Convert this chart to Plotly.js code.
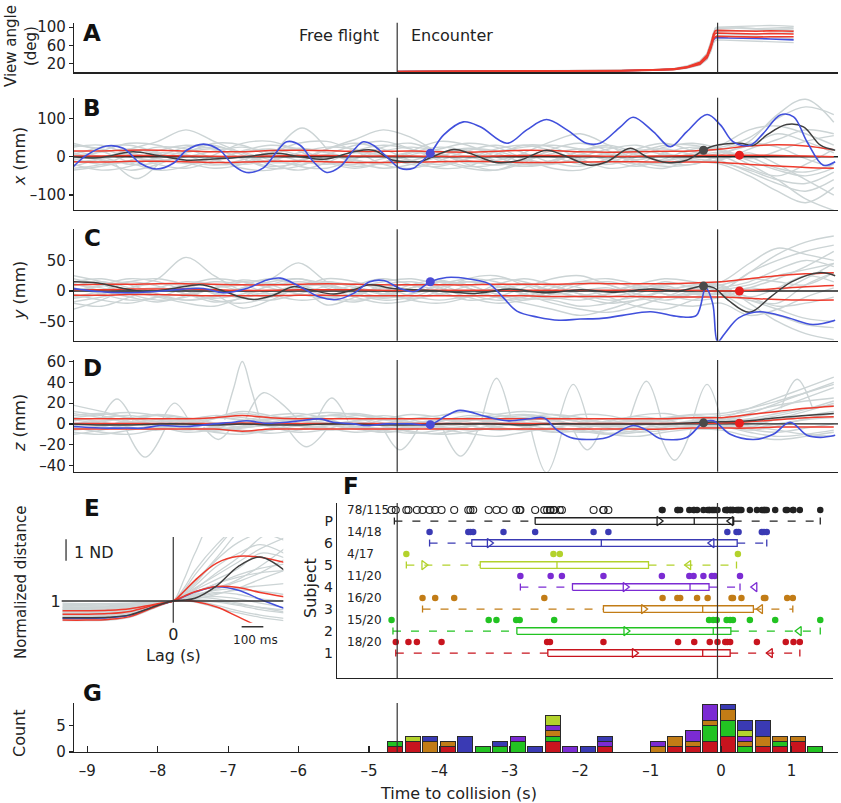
<!DOCTYPE html>
<html><head><meta charset="utf-8">
<script src="https://cdn.plot.ly/plotly-3.0.1.min.js"></script>
<style>html,body{margin:0;padding:0;background:#fff}#plot{width:841px;height:803px}</style>
</head><body><div id="plot"></div>
<script>
// ================= DATA =================
const encounterTime = -4.6;
const collisionTime = -0.05;
const timeTicks = [-9,-8,-7,-6,-5,-4,-3,-2,-1,0,1];

// Panel A: view angle (deg)
const tA = [-4.6,-3.0,-2.0,-1.43,-0.97,-0.68,-0.49,-0.3,-0.2,-0.146,-0.11,-0.085,-0.06,0.1,0.3,0.5,0.7,0.9,1.03];
const angleRedHi  = [1.8,2.3,3.2,4.1,5.6,7.5,12,22,38,62,84,92,93,92,91,91,92,91,91];
const angleRedMid = [1.5,2,2.8,3.6,5,6.7,11,20,35,57,79,86,87,86,85,85,86,85,85];
const angleRedLo  = [1.2,1.7,2.4,3.1,4.4,5.9,10,18,32,52,73,79,80,79,79,78,79,79,79];
const angleBlue   = [1.5,2,2.8,3.6,5,6.6,10.5,19,33,55,72,76,77,76,76,75,74,72,72];
const angleGray = [
  [2,2.5,3.5,4.5,6,8,14,25,42,68,90,98,100,101,103,104,104,103,102],
  [1.2,1.6,2.2,3,4.2,5.5,9,16,28,46,64,70,72,71,70,69,68,67,66],
  [1.6,2.1,3,3.9,5.4,7.2,12,23,40,64,86,94,97,98,99,97,95,96,97],
  [1.4,1.8,2.6,3.4,4.7,6.3,10,18,31,50,70,78,82,83,84,85,86,87,88],
  [1.9,2.4,3.3,4.3,5.8,7.8,13,24,41,66,88,96,99,98,97,97,98,99,100],
  [1.3,1.7,2.5,3.2,4.5,6,9.5,17,30,48,68,74,76,78,80,80,78,76,75],
  [1.7,2.2,3.1,4,5.5,7.4,12.5,23,39,63,85,92,94,93,92,93,94,93,92],
  [1.5,1.9,2.7,3.5,4.9,6.5,11,21,36,58,80,88,90,91,93,94,95,94,93]
];

// Shared time grid for gray trajectories and red mean/SD lines (B, C, D)
const tGrid = [-9.2,-8.8,-8.4,-8.0,-7.6,-7.2,-6.8,-6.4,-6.0,-5.6,-5.2,-4.8,-4.4,-4.0,-3.6,-3.2,-2.8,-2.4,-2.0,-1.6,-1.2,-0.8,-0.4,0.0,0.4,0.8,1.2,1.6];

// Panel B: x (mm)
const grayB = [
  [25,30,5,-20,-30,-10,15,30,20,-10,-25,-15,10,25,15,-10,-25,-15,15,30,10,-15,-20,5,40,110,150,90],
  [-30,-20,5,25,20,-5,-30,-35,-10,20,35,20,-10,-30,-25,5,30,25,-5,-30,-20,10,25,15,-20,-60,-110,-140],
  [10,-10,-35,-20,10,35,30,0,-25,-30,-5,25,35,10,-20,-35,-15,20,35,15,-20,-30,-5,10,30,60,40,10],
  [-10,15,35,30,5,-20,-15,10,35,40,15,-20,-30,-10,15,30,10,-15,-25,-5,20,35,15,-10,-40,-70,-90,-60],
  [35,15,-15,-35,-25,5,35,40,15,-15,-30,-15,15,40,30,0,-20,-10,15,25,5,-10,5,30,70,80,60,30],
  [-20,-35,-25,0,25,30,5,-20,-35,-15,15,30,20,-5,-25,-20,10,40,60,30,-10,-25,-20,0,-30,-50,-20,20],
  [5,25,30,10,-15,-30,-20,5,20,10,-10,-15,5,20,35,25,-5,-30,-35,-10,15,20,5,-5,10,-20,-60,-100],
  [-5,-20,-10,15,30,20,-5,-30,-25,5,30,40,20,-10,-30,-35,-10,15,10,-10,-25,-5,20,25,50,100,130,110],
  [15,0,-20,-15,10,20,-5,-25,-15,20,45,70,50,10,-15,-10,5,0,-20,-15,10,30,30,15,0,-30,-40,-20],
  [-25,-5,20,40,70,40,10,-15,-10,5,-15,-30,-20,0,20,10,-15,-20,0,20,30,10,-10,-20,-50,-90,-120,-80],
  [0,12,20,8,-12,-22,-8,12,22,12,-8,-20,-10,8,22,15,-5,-18,-8,10,18,5,-12,-8,20,45,70,60],
  [-15,-5,8,-5,-18,-5,12,20,5,-15,-20,-5,12,5,-10,-22,-10,8,20,8,-12,-18,0,12,-10,-35,-50,-30],
  [30,20,0,-10,0,15,25,10,-10,-20,-5,15,25,15,0,-15,-25,-10,5,-5,-20,-10,10,20,35,25,-5,-30],
  [-35,-25,-10,10,5,-10,-20,-10,10,25,20,0,-20,-25,-5,20,30,15,-10,-20,0,25,35,20,-5,15,40,55],
  [8,-8,-15,-5,15,25,12,-8,-20,-5,10,5,-10,-20,-5,12,25,30,20,5,-8,5,-5,-15,-35,-60,-70,-40]
];
const grayExtraB = [{t:[-6.3,-5.95,-5.6], v:[20,75,20]}, {t:[-8.6,-8.3,-8.0], v:[-20,-57,-20]}];
const redBHi  = [15,15,17,17,15,13,13,16,17,16,14,14,15,13,12,14,17,16,13,12,13,14,15,20,28,31,28,18];
const redBMid = [2,2,3,3,2,1,1,2,3,3,2,2,2,1,1,2,3,3,2,1,1,2,3,4,4,3,2,0];
const redBLo  = [-13,-14,-12,-12,-13,-15,-14,-12,-12,-13,-15,-15,-14,-13,-12,-13,-15,-15,-14,-13,-13,-14,-14,-15,-20,-24,-28,-30];
const blueBT = [-9.2,-9.01,-8.73,-8.49,-8.25,-8.02,-7.78,-7.59,-7.35,-7.12,-6.93,-6.74,-6.5,-6.31,-6.17,-5.98,-5.79,-5.6,-5.41,-5.22,-5.08,-4.94,-4.75,-4.56,-4.37,-4.28,-4.13,-3.94,-3.66,-3.42,-3.04,-2.76,-2.48,-2.19,-1.91,-1.72,-1.43,-1.25,-0.96,-0.72,-0.49,-0.2,-0.01,0.17,0.41,0.6,0.84,1.03,1.22,1.45,1.62];
const blueBV = [-26,4,28,22,-17,-32,-17,17,33,17,-22,-41,-29,13,39,30,-13,-41,-26,17,39,30,0,-30,-30,-17,9,57,91,78,35,70,97,70,35,35,78,103,65,26,65,110,83,39,30,61,109,104,39,-22,-13];
const blackBT = [-9.2,-8.85,-8.35,-8.02,-7.59,-7.21,-6.74,-6.31,-5.98,-5.6,-5.22,-4.94,-4.66,-4.37,-4.28,-3.8,-3.57,-3.19,-2.86,-2.48,-2.24,-1.86,-1.62,-1.29,-1.06,-0.77,-0.49,-0.25,-0.11,0.27,0.46,0.65,0.93,1.17,1.41,1.62];
const blackBV = [0,-3,13,4,-9,-6,0,9,0,-6,13,17,-9,-13,-13,19,9,-15,-9,17,4,-22,-13,22,0,-15,-9,17,28,35,30,57,84,78,30,17];
const dotsB = {blue:[-4.13, 9], black:[-0.25, 17], red:[0.26, 4]};

// Panel C: y (mm)
const grayC = [
  [-30,-15,5,20,55,25,0,-10,5,15,5,-5,5,15,10,-5,-15,-5,10,15,5,-5,-10,0,30,60,80,90],
  [15,20,10,-5,-15,-10,5,15,20,10,-5,-15,-10,5,15,10,-5,-20,-30,-35,-25,-10,5,10,-20,-50,-70,-80],
  [5,-5,-15,-10,5,15,10,-5,-15,-10,5,15,20,10,-5,-15,-10,5,15,10,-5,-15,-5,5,15,35,50,40],
  [-10,0,15,20,10,-5,-28,-15,5,10,0,-10,-5,10,20,15,0,-10,-15,-5,10,20,15,5,-10,-25,-20,-10],
  [20,10,-5,-15,-10,5,15,20,46,15,-5,-10,5,15,5,-10,-20,-30,-40,-30,-15,0,10,15,45,70,60,50],
  [0,10,20,15,0,-15,-20,-10,5,-23,-10,10,15,5,-10,-20,-15,0,15,20,10,-5,-15,-10,5,20,40,65],
  [-20,-25,-10,5,15,10,0,-5,5,20,15,0,-15,-20,-10,10,20,10,-5,-10,0,15,5,-5,-30,-40,-55,-60],
  [10,5,-5,0,10,20,15,5,-5,-10,-5,5,10,0,-15,-10,5,20,25,10,-5,-10,0,10,20,15,10,30],
  [-5,-15,-20,-10,-5,5,10,20,10,0,10,20,10,-5,-10,0,10,0,-10,-20,-15,-10,-5,-5,-15,-20,10,30],
  [25,15,0,-10,-20,-25,-10,10,20,5,-10,-20,-15,0,20,25,10,-5,0,5,-10,-20,-25,-20,-40,-30,-10,5],
  [0,8,15,8,-5,-12,-5,8,15,8,-5,-12,-5,8,15,8,-5,-12,-8,0,8,5,-3,2,10,25,35,45],
  [-12,-5,5,12,8,-3,-12,-15,-5,8,12,5,-8,-15,-8,5,12,8,-5,-15,-10,0,8,0,-15,-30,-45,-50],
  [8,15,5,-8,-15,-8,5,12,5,-8,-15,-8,5,15,10,-5,-12,-15,-25,-20,-5,8,-5,-5,5,0,20,45],
  [-18,-10,0,5,-5,-18,-12,0,8,15,8,-5,-12,-5,8,20,15,0,-10,-5,5,10,12,8,-10,5,25,15],
  [12,0,-10,-18,-8,5,18,10,-5,-12,-18,-5,10,18,5,-10,-5,10,5,-10,-25,-30,-15,0,30,50,65,75]
];
const redCHi  = [10,11,11,12,12,11,10,10,11,12,11,10,10,10,10,11,11,11,12,12,12,12,13,15,20,25,28,30];
const redCMid = [2,2,3,3,3,2,1,1,2,2,2,1,1,1,1,1,1,1,1,1,1,1,1,0,1,4,7,9];
const redCLo  = [-7,-7,-6,-6,-7,-8,-8,-8,-7,-7,-8,-8,-8,-8,-8,-8,-8,-9,-9,-9,-9,-10,-10,-10,-12,-14,-15,-15];
const blueCT = [-9.2,-8.85,-8.49,-8.02,-7.64,-7.35,-7.07,-6.74,-6.45,-6.26,-5.98,-5.7,-5.46,-5.22,-4.99,-4.79,-4.56,-4.35,-4.13,-3.9,-3.6,-3.3,-3.1,-2.9,-2.6,-2.3,-2.0,-1.7,-1.4,-1.0,-0.6,-0.35,-0.22,-0.12,-0.05,0.05,0.25,0.55,0.95,1.3,1.62];
const blueCV = [4,-1,-3,-1,3,4,-3,4,18,21,7,-10,-14,-4,15,17,4,-1,15,22,20,12,-10,-33,-43,-48,-46,-45,-40,-34,-42,-40,5,-20,-83,-70,-44,-34,-44,-55,-48];
const blackCT = [-9.2,-8.85,-8.49,-8.16,-7.78,-7.4,-7.12,-6.83,-6.64,-6.36,-6.08,-5.84,-5.5,-5.22,-4.99,-4.66,-4.35,-4.0,-3.5,-3.0,-2.5,-2.0,-1.5,-1.0,-0.6,-0.25,-0.1,0.1,0.4,0.7,1.0,1.4,1.62];
const blackCV = [15,13,4,-1,4,10,2,-10,-14,-7,7,2,-5,2,10,4,2,0,-4,3,-3,2,-2,3,0,8,5,-15,-35,-10,15,30,25];
const dotsC = {blue:[-4.13, 15], black:[-0.25, 8], red:[0.26, 0]};

// Panel D: z (mm)
const grayD = [
  [8,10,5,-2,-8,-5,3,8,10,5,-3,-8,-5,2,8,6,-2,-8,-6,2,8,10,5,4,10,20,30,40],
  [-6,-3,4,8,5,-2,-8,-6,2,8,6,-2,-8,-9,-3,4,8,5,-3,-9,-6,2,6,3,-5,-8,-4,0],
  [12,8,2,-4,-2,5,10,6,-2,-6,-3,4,9,6,-1,-6,-4,3,9,8,2,-4,-2,5,15,25,35,45],
  [-3,-8,-10,-5,2,6,4,-3,-8,-5,3,8,4,-2,-6,-3,3,6,2,-4,-8,-6,-1,2,5,10,15,18],
  [18,12,6,2,4,8,6,2,0,4,8,6,2,-2,0,4,6,3,-1,-3,0,4,6,8,12,18,22,25],
  [-10,-6,0,4,2,-3,-6,-9,-6,-1,2,-2,-7,-10,-8,-3,1,-2,-7,-10,-8,-3,0,-2,-8,-12,-10,-6],
  [3,6,8,4,-2,-6,-3,2,5,8,10,6,0,-4,-2,3,6,9,6,0,-5,-3,2,0,-3,5,12,20],
  [-8,-10,-6,-2,-4,-8,-10,-6,-2,-4,-8,-6,-3,-5,-9,-12,-8,-4,-6,-10,-12,-8,-5,-6,-12,-15,-12,-8],
  [5,2,-3,-6,0,6,12,8,3,0,-4,0,5,8,12,9,4,0,-2,3,7,4,-1,3,8,15,25,35],
  [0,3,5,2,-3,-5,-2,4,7,3,-2,-4,0,4,2,-3,-6,-4,1,5,3,-1,-4,-3,0,4,8,12],
  [4,0,-4,-2,3,6,3,-2,-5,-2,3,5,2,-3,-5,-1,3,5,2,-2,-4,-1,3,2,-2,-6,-10,-12],
  [-2,2,6,9,6,1,-3,-1,4,8,6,1,-3,-1,3,7,9,6,2,-2,1,5,8,6,4,8,14,22],
  [10,6,1,-3,-6,-3,2,5,3,-1,-5,-8,-5,0,4,2,-3,-7,-4,1,4,2,-2,-1,-6,-2,5,10],
  [-5,-2,2,0,-4,-7,-4,0,3,1,-3,-6,-9,-6,-2,1,-1,-5,-8,-6,-2,1,-1,-3,-4,0,4,6],
  [6,9,11,8,3,0,2,5,8,11,9,4,1,3,6,9,12,9,4,1,3,6,9,10,15,22,30,38]
];
const spikesD = [
  {t:[-7.05,-6.92,-6.8,-6.68,-6.55], v:[4,35,60,35,4]},
  {t:[-6.75,-6.5,-6.25,-6.0], v:[5,30,20,3]},
  {t:[-8.8,-8.58,-8.35], v:[5,24,3]},
  {t:[-7.95,-7.76,-7.55], v:[2,20,2]},
  {t:[-5.75,-5.53,-5.3], v:[3,25,3]},
  {t:[-8.45,-8.18,-7.9], v:[-5,-32,-5]},
  {t:[-6.15,-5.89,-5.6], v:[-5,-22,-5]},
  {t:[-4.8,-4.56,-4.3], v:[-4,-25,-4]},
  {t:[-7.35,-7.14,-6.95], v:[-3,-15,-3]},
  {t:[-3.4,-3.19,-2.98], v:[4,44,4]},
  {t:[-2.3,-2.1,-1.9], v:[4,38,4]},
  {t:[-1.3,-1.06,-0.85], v:[4,41,4]},
  {t:[-0.4,-0.2,0.0], v:[4,38,4]},
  {t:[0.85,1.08,1.3], v:[15,43,15]},
  {t:[-3.95,-3.7,-3.45], v:[-5,-31,-5]},
  {t:[-2.7,-2.48,-2.25], v:[-5,-47,-5]},
  {t:[-2.1,-1.9,-1.7], v:[-5,-25,-5]},
  {t:[-0.9,-0.66,-0.42], v:[-5,-35,-5]}
];
const redDHi  = [5,5,5,5,5,6,8,6,5,5,5,5,5,5,5,5,5,5,5,5,5,5,6,6,9,12,15,17];
const redDMid = [0.5,0.5,0.5,0.5,0.5,0.5,0.8,0.5,0.5,0.5,0.5,0.5,0.5,0.5,0.5,0.5,0.5,0.5,0.5,0.5,0.5,0.5,0.6,0.8,2,4,6,7];
const redDLo  = [-5,-5,-5,-5,-5,-5,-7,-5,-5,-5,-5,-5,-5,-5,-5,-5,-5,-5,-5,-5,-5,-5,-4,-4,-4,-3,-3,-3];
const blackD  = [0,-1,-1,0,0,-1,0,-1,-1,0,0,-1,-1,0,0,0,-1,0,0,0,0,0,1,2,3,6,8,10];
const blueDT = [-9.19,-8.82,-8.44,-8.2,-7.97,-7.59,-7.21,-6.93,-6.74,-6.45,-6.17,-5.98,-5.7,-5.51,-5.22,-5.03,-4.75,-4.4,-4.13,-3.9,-3.71,-3.33,-3.04,-2.71,-2.52,-2.33,-2.14,-1.91,-1.62,-1.25,-1.06,-0.87,-0.49,-0.25,-0.11,0.13,0.46,0.74,0.98,1.22,1.41,1.62];
const blueDV = [-2.5,-4,-4,-4,-1.6,-2.5,0,1.6,3,0.6,1.6,3,4.8,1.6,0,-1.6,0,0,-0.7,8,13,7,3,5,6,-6,-13,-15,-13,-1.6,-6,-14,-13,1.6,3,-10,-15,-10,1.6,-11,-13,-11];
const dotsD = {blue:[-4.13, -0.7], black:[-0.25, 1], red:[0.26, 0.6]};

// Panel E: normalized distance vs lag (s)
const lagGrid = [-0.51,-0.4,-0.3,-0.2,-0.1,-0.05,0,0.05,0.1,0.2,0.3,0.4,0.51];
const grayE = [
  [0.6,0.62,0.65,0.72,0.86,0.93,1,1.4,1.9,3.0,4.2,5,5],
  [0.3,0.3,0.32,0.45,0.75,0.88,1,1.3,1.6,2.2,2.8,3.4,3.9],
  [0.8,0.8,0.82,0.85,0.92,0.96,1,1.2,1.4,1.8,2.1,2.3,2.4],
  [0.5,0.52,0.55,0.62,0.8,0.9,1,1.1,1.15,1.2,1.1,0.9,0.7],
  [0.2,0.2,0.22,0.35,0.7,0.86,1,1.05,1.0,0.8,0.55,0.35,0.2],
  [0.7,0.7,0.72,0.78,0.9,0.95,1,1.6,2.4,3.6,4.5,5,5],
  [0.4,0.42,0.45,0.55,0.78,0.9,1,1.2,1.5,2.0,2.5,3.2,3.0],
  [0.9,0.88,0.88,0.9,0.95,0.98,1,1.15,1.3,1.5,1.6,1.7,1.8],
  [0.15,0.15,0.18,0.3,0.65,0.84,1,1.1,1.2,1.4,1.3,1.1,1.0],
  [0.55,0.55,0.58,0.65,0.82,0.91,1,1.3,1.7,2.6,3.2,3.6,3.2],
  [0.35,0.36,0.4,0.5,0.75,0.88,1,1.08,1.15,1.1,0.9,0.7,0.6],
  [0.75,0.76,0.78,0.82,0.91,0.95,1,2,3.2,5,5,5,5],
  [0.25,0.27,0.3,0.42,0.72,0.87,1,1.25,1.55,2.3,3.0,3.9,4.5],
  [0.65,0.66,0.68,0.74,0.88,0.94,1,1.05,1.1,1.3,1.6,2.0,2.4],
  [0.45,0.46,0.5,0.6,0.8,0.9,1,1.02,0.95,0.7,0.45,0.25,0.1],
  [0.85,0.85,0.86,0.88,0.93,0.97,1,1.5,2.2,3.4,4.5,5,5],
  [0.1,0.1,0.12,0.25,0.62,0.82,1,1.15,1.35,1.8,2.2,2.5,2.7],
  [0.6,0.6,0.62,0.68,0.84,0.92,1,1.12,1.25,1.55,1.9,2.3,2.9],
  [0.3,0.32,0.35,0.46,0.76,0.89,1,1.04,1.06,1.0,0.85,0.7,0.5],
  [0.7,0.72,0.74,0.8,0.9,0.95,1,1.35,1.8,2.9,3.7,4.1,3.8],
  [0.5,0.5,0.53,0.6,0.8,0.9,1,1.1,1.25,1.6,2.0,2.6,3.4],
  [0.2,0.22,0.26,0.38,0.7,0.86,1,1.08,1.18,1.35,1.5,1.45,1.3],
  [0.4,0.4,0.43,0.52,0.77,0.89,1,1.02,1.02,0.95,0.8,0.6,0.45]
];
const redEHi  = [0.55,0.55,0.57,0.64,0.82,0.91,1,1.45,1.95,2.75,3.06,3.02,2.78];
const redEMid = [0.39,0.39,0.42,0.52,0.78,0.9,1,1.22,1.43,1.67,1.62,1.39,1.2];
const redELo  = [0.12,0.12,0.15,0.28,0.66,0.85,1,1.02,0.98,0.72,0.27,-0.2,-0.6];
const blackE  = [0.23,0.23,0.25,0.36,0.7,0.87,1,1.05,1.13,1.7,2.6,3.03,2.43];
const blueE   = [0.2,0.2,0.23,0.34,0.69,0.86,1,1.2,1.42,1.66,1.5,1.08,0.66];

// Panel F: event times per subject (s)
const subjects = ['1','2','3','4','5','6'];
const fractionLabels = ['18/20','15/20','16/20','11/20','4/17','14/18'];
const pooledLabel = '78/115';
const eventsS1 = [-4.62,-4.44,-4.32,-3.97,-2.47,-2.43,-1.67,-0.61,-0.38,-0.16,-0.05,0.06,0.09,0.13,0.51,0.92,1.03,1.12];
const eventsS2 = [-4.68,-3.30,-3.19,-2.91,-2.86,-2.37,-0.17,-0.11,-0.06,0.08,0.13,0.17,0.41,0.77,1.41];
const eventsS3 = [-4.24,-4.06,-3.79,-2.51,-0.83,-0.62,-0.58,-0.34,-0.19,0.15,0.17,0.29,0.61,0.63,0.94,1.02];
const eventsS4 = [-2.85,-2.42,-2.26,-1.67,-0.84,-0.45,-0.39,-0.25,-0.13,-0.09,0.27];
const eventsS5 = [-4.47,-2.38,-2.29,0.24];
const eventsS6 = [-4.14,-3.59,-3.56,-3.52,-3.09,-2.64,-1.81,-1.60,0.09,0.22,0.25,0.58,0.61,0.65];
const openBefore = -1.2;
// box summaries: [whiskerLo, q1, median, q3, whiskerHi, rightTriangle, leftTriangle]
const boxS1 = [-4.62,-2.46,-0.26,0.13,1.12,-1.23,0.70];
const boxS2 = [-4.66,-2.90,-0.11,0.14,1.41,-1.35,1.11];
const boxS3 = [-4.24,-1.67,-0.26,0.46,1.02,-1.10,0.56];
const boxS4 = [-2.85,-2.11,-0.44,-0.17,0.27,-1.36,0.48];
const boxS5 = [-4.47,-3.42,-2.33,-1.03,0.22,-4.22,-0.46];
const boxS6 = [-4.14,-3.54,-1.70,0.23,0.65,-3.29,-0.13];
const boxP  = [-4.64,-2.64,-0.38,0.18,1.41,-0.88,0.14];

// Panel G: stacked histogram counts
const binCenters = [-4.63,-4.381,-4.133,-3.884,-3.636,-3.387,-3.138,-2.890,-2.641,-2.393,-2.144,-1.895,-1.647,-1.398,-1.150,-0.901,-0.652,-0.404,-0.155,0.094,0.342,0.591,0.839,1.088,1.337];
const countS1 = [1,2,0,1,0,0,0,0,0,2,0,0,1,0,0,0,1,1,2,3,0,1,1,2,0];
const countS2 = [1,0,0,0,0,1,1,2,0,1,0,0,0,0,0,0,0,0,3,3,1,0,1,0,1];
const countS3 = [0,0,2,1,0,0,0,0,0,1,0,0,0,0,0,1,2,1,1,2,1,2,1,1,0];
const countS4 = [0,0,0,0,0,0,0,1,0,1,1,0,1,0,0,1,0,2,3,0,1,0,0,0,0];
const countS5 = [0,1,0,0,0,0,0,0,0,2,0,0,0,0,0,0,0,0,0,0,1,0,0,0,0];
const countS6 = [0,0,1,0,3,0,1,0,1,0,0,1,1,0,0,0,0,0,0,1,2,3,0,0,0];

// ================= STYLE / LAYOUT =================
const W = 841, H = 803;
const FONT = 'DejaVu Sans, Liberation Sans, Arial, sans-serif';
const INK = '#222222', GRAY = '#ccd4d5', RED = '#ee3a2c', BLUE = '#4150dc', DARK = '#3f3f3f';
const subjColors = ['#c8141e','#22c322','#c27c16','#7b2bd3','#b3d22c','#3a3ab4'];
const tMin = -9.19, tMax = 1.66;
const xd = (l, r) => [l / W, r / W];
const yd = (t, b) => [1 - b / H, 1 - t / H];
const lab = v => v < 0 ? '\u2013' + Math.abs(v) : String(v);

const traces = [];
function add(o) { traces.push(Object.assign({type:'scatter', hoverinfo:'skip', showlegend:false}, o)); }
function ln(xa, ya, x, y, color, width, shape) {
  add({x, y, xaxis:xa, yaxis:ya, mode:'lines', line:{color, width, shape: shape || 'spline', smoothing: 1}});
}
function dot(xa, ya, p, color) {
  add({x:[p[0]], y:[p[1]], xaxis:xa, yaxis:ya, mode:'markers', marker:{color, size:9}});
}

// A
angleGray.forEach(v => ln('x','y', tA, v, GRAY, 1.3, 'linear'));
ln('x','y', tA, angleBlue, BLUE, 1.6, 'linear');
[angleRedHi, angleRedMid, angleRedLo].forEach(v => ln('x','y', tA, v, RED, 1.6, 'linear'));

// B, C, D
function trajPanel(xa, ya, grays, extras, reds, blackT, blackV, blueT, blueV, dots) {
  grays.forEach(v => ln(xa, ya, tGrid, v, GRAY, 1.4));
  extras.forEach(s => ln(xa, ya, s.t, s.v, GRAY, 1.4));
  add({x:[tMin, tMax], y:[0, 0], xaxis:xa, yaxis:ya, mode:'lines', line:{color:INK, width:1.4}});
  reds.forEach(v => ln(xa, ya, tGrid, v, RED, 1.5));
  ln(xa, ya, blackT, blackV, DARK, 1.5);
  ln(xa, ya, blueT, blueV, BLUE, 1.6);
  dot(xa, ya, dots.blue, '#4b4bd6');
  dot(xa, ya, dots.black, '#4a4a4a');
  dot(xa, ya, dots.red, '#e81e1e');
}
trajPanel('x2','y2', grayB, grayExtraB, [redBHi, redBMid, redBLo], blackBT, blackBV, blueBT, blueBV, dotsB);
trajPanel('x3','y3', grayC, [], [redCHi, redCMid, redCLo], blackCT, blackCV, blueCT, blueCV, dotsC);
trajPanel('x4','y4', grayD, spikesD, [redDHi, redDMid, redDLo], tGrid, blackD, blueDT, blueDV, dotsD);

// E
grayE.forEach(v => ln('x5','y5', lagGrid, v, GRAY, 1.3));
ln('x5','y5', lagGrid, blueE, BLUE, 1.5);
[redEHi, redEMid, redELo].forEach(v => ln('x5','y5', lagGrid, v, RED, 1.5));
ln('x5','y5', lagGrid, blackE, DARK, 1.5);

// F
const events = [eventsS1, eventsS2, eventsS3, eventsS4, eventsS5, eventsS6];
const boxes = [boxS1, boxS2, boxS3, boxS4, boxS5, boxS6];
const boxHalf = 0.3;
function boxRow(b, r, color) {
  const [wlo, q1, med, q3, whi, triR, triL] = b;
  add({x:[wlo, q1], y:[r, r], xaxis:'x6', yaxis:'y6', mode:'lines', line:{color, width:1.3, dash:'8px,10px'}});
  add({x:[q3, whi], y:[r, r], xaxis:'x6', yaxis:'y6', mode:'lines', line:{color, width:1.3, dash:'8px,10px'}});
  add({x:[q1, q3, q3, q1, q1], y:[r-boxHalf, r-boxHalf, r+boxHalf, r+boxHalf, r-boxHalf], xaxis:'x6', yaxis:'y6', mode:'lines', line:{color, width:1.3}});
  add({x:[med, med], y:[r-boxHalf, r+boxHalf], xaxis:'x6', yaxis:'y6', mode:'lines', line:{color, width:1.3}});
  add({x:[wlo, whi], y:[r, r], xaxis:'x6', yaxis:'y6', mode:'markers', marker:{symbol:'line-ns-open', size:5, color, line:{color, width:1.3}}});
  add({x:[triR], y:[r], xaxis:'x6', yaxis:'y6', mode:'markers', marker:{symbol:'triangle-right-open', size:8, color, line:{color, width:1.3}}});
  add({x:[triL], y:[r], xaxis:'x6', yaxis:'y6', mode:'markers', marker:{symbol:'triangle-left-open', size:8, color, line:{color, width:1.3}}});
}
events.forEach((ev, i) => {
  const r = 2 * (i + 1);
  add({x: ev, y: ev.map(() => r + 1), xaxis:'x6', yaxis:'y6', mode:'markers', marker:{color: subjColors[i], size:6.5}});
  boxRow(boxes[i], r, subjColors[i]);
});
const pooled = [].concat(...events);
const pOpen = pooled.filter(t => t < openBefore), pFilled = pooled.filter(t => t >= openBefore);
add({x:pOpen, y:pOpen.map(() => 15), xaxis:'x6', yaxis:'y6', mode:'markers', marker:{symbol:'circle-open', size:7, color:'#222', line:{width:1.1}}});
add({x:pFilled, y:pFilled.map(() => 15), xaxis:'x6', yaxis:'y6', mode:'markers', marker:{color:'#222', size:6.5}});
boxRow(boxP, 14, '#222222');

// G
[countS1, countS2, countS3, countS4, countS5, countS6].forEach((c, i) => {
  traces.push({type:'bar', x: binCenters, y: c, width: 0.215, xaxis:'x7', yaxis:'y7', hoverinfo:'skip', showlegend:false,
    marker:{color: subjColors[i], line:{color:'#2a2a2a', width:1}}});
});

// Axes
function xMain(anchor) {
  return {domain: xd(74, 838), range: [tMin, tMax], anchor, showline: true, linecolor: INK, linewidth: 1.2,
    ticks: '', showticklabels: false, showgrid: false, zeroline: false, fixedrange: true};
}
function yAx(anchor, top, bottom, range, vals) {
  return {domain: yd(top, bottom), range, anchor, showline: true, linecolor: INK, linewidth: 1.2,
    ticks: 'outside', ticklen: 4, tickwidth: 1.2, tickcolor: INK, tickvals: vals, ticktext: vals.map(lab),
    showgrid: false, zeroline: false, tickfont: {size: 15}, fixedrange: true};
}
const layout = {
  width: W, height: H, margin: {l:0, r:0, t:0, b:0}, showlegend: false,
  paper_bgcolor: '#ffffff', plot_bgcolor: 'rgba(0,0,0,0)', barmode: 'stack',
  font: {family: FONT, size: 15, color: INK},
  xaxis: xMain('y'), yaxis: yAx('x', 22.7, 72.3, [0, 110], [20, 60, 100]),
  xaxis2: xMain('y2'), yaxis2: yAx('x2', 97.7, 210, [-139, 154], [-100, 0, 100]),
  xaxis3: xMain('y3'), yaxis3: yAx('x3', 229.3, 340.7, [-81.5, 101], [-50, 0, 50]),
  xaxis4: xMain('y4'), yaxis4: yAx('x4', 360, 471.7, [-46, 61.5], [-40, -20, 0, 20, 40, 60]),
  xaxis5: {domain: xd(61.7, 283.3), range: [-0.514, 0.507], anchor: 'y5', showline: false, ticks: '', tickvals: [0], ticktext: ['0'],
    showgrid: false, zeroline: false, tickfont: {size: 16}, fixedrange: true},
  yaxis5: {domain: yd(537, 622.7), range: [0, 3.95], anchor: 'x5', showline: false, ticks: '', tickvals: [1], ticktext: ['1'],
    showgrid: false, zeroline: false, tickfont: {size: 16}, fixedrange: true},
  xaxis6: {domain: xd(337, 833), range: [-5.455, 1.591], anchor: 'y6', showline: true, linecolor: INK, linewidth: 1.2,
    ticks: '', showticklabels: false, showgrid: false, zeroline: false, fixedrange: true},
  yaxis6: {domain: yd(503, 678), range: [-0.27, 15.64], anchor: 'x6', showline: true, linecolor: INK, linewidth: 1.2,
    ticks: '', tickvals: [2, 4, 6, 8, 10, 12, 14], ticktext: subjects.concat(['P']), showgrid: false, zeroline: false,
    tickfont: {size: 14}, fixedrange: true},
  xaxis7: Object.assign(xMain('y7'), {ticks: 'inside', ticklen: 6, tickwidth: 1.2, tickcolor: INK, showticklabels: true,
    tickvals: timeTicks, ticktext: timeTicks.map(lab), tickfont: {size: 15}, ticklabelstandoff: 5}),
  yaxis7: yAx('x7', 703, 752, [0, 9.32], [0, 5]),
  shapes: [], annotations: []
};

// reference lines
const vline = (xa, ya, t) => ({type:'line', xref: xa, yref: ya + ' domain', x0: t, x1: t, y0: 0, y1: 1, line:{color:'#333', width:1.2}, layer:'above'});
[['x','y'],['x2','y2'],['x3','y3'],['x4','y4'],['x6','y6']].forEach(([xa, ya]) => {
  layout.shapes.push(vline(xa, ya, encounterTime), vline(xa, ya, collisionTime));
});
layout.shapes.push(vline('x7','y7', encounterTime));
layout.shapes.push(vline('x5','y5', 0));
layout.shapes.push({type:'line', xref:'x5 domain', yref:'y5', x0:0, x1:1, y0:1, y1:1, line:{color:'#333', width:1.3}, layer:'above'});
layout.shapes.push({type:'line', xref:'x5', yref:'y5', x0:-0.494, x1:-0.494, y0:2.85, y1:3.85, line:{color:'#333', width:1.3}});
layout.shapes.push({type:'line', xref:'x5', yref:'paper', x0:0.315, x1:0.415, y0:1 - 626.7 / H, y1:1 - 626.7 / H, line:{color:'#333', width:1.5}});

// text
function note(text, x, y, o) {
  return Object.assign({text, x: x / W, y: 1 - y / H, xref:'paper', yref:'paper', showarrow:false,
    xanchor:'center', yanchor:'middle', font:{size:16, color:INK, family:FONT}}, o || {});
}
const bold = {font:{size:23, color:'#111', family:'DejaVu Sans, Arial, sans-serif', weight: 'bold'}};
[['A',92,33],['B',92,108],['C',92,238],['D',92,368],['E',92,508],['F',351,486],['G',92,693]].forEach(([t, x, y]) => {
  layout.annotations.push(note('<b>' + t + '</b>', x, y, bold));
});
layout.annotations.push(
  note('View angle<br>(deg)', 21, 46, {textangle:-90, font:{size:15, color:INK, family:FONT}}),
  note('<i>x</i> (mm)', 19, 157, {textangle:-90}),
  note('<i>y</i> (mm)', 19, 291, {textangle:-90}),
  note('<i>z</i> (mm)', 19, 423, {textangle:-90}),
  note('Count', 19, 733, {textangle:-90}),
  note('Normalized distance', 21, 583, {textangle:-90, font:{size:15, color:INK, family:FONT}}),
  note('Subject', 310, 588, {textangle:-90}),
  note('Time to collision (s)', 458, 793),
  note('Free flight', 381, 36, {xanchor:'right'}),
  note('Encounter', 409, 36, {xanchor:'left'}),
  note('Lag (s)', 173, 655),
  note('100 ms', 255, 640, {font:{size:12, color:INK, family:FONT}}),
  note('1 ND', 72, 552, {xanchor:'left'})
);
fractionLabels.concat([pooledLabel]).forEach((t, i) => {
  layout.annotations.push({text: t, x: 345 / W, xref:'paper', y: 2 * (i + 1) + 1, yref:'y6', showarrow:false,
    xanchor:'left', yanchor:'middle', font:{size:12, color:INK, family:FONT}});
});

Plotly.newPlot('plot', traces, layout, {staticPlot: true, displayModeBar: false});
</script></body></html>
